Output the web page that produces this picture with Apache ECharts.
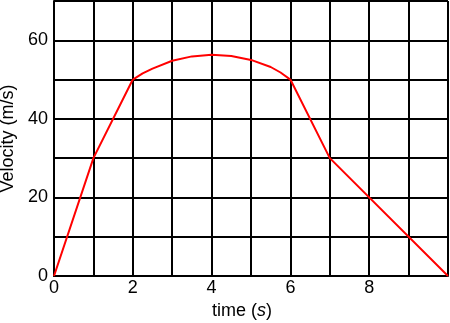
<!DOCTYPE html>
<html>
<head>
<meta charset="utf-8">
<script src="https://cdn.jsdelivr.net/npm/echarts@6/dist/echarts.min.js"></script>
<style>html,body{margin:0;padding:0;background:#fff}#c{width:450px;height:323px}</style>
</head>
<body>
<div id="c"></div>
<script>
// Straight segments (time, velocity)
var straightA = [[0, 0], [1, 30], [2, 50]];
var straightB = [[6, 50], [7, 30], [10, 0]];
// Curved segment
var arcPoints = [[2, 50], [2.25, 51.6], [2.5, 52.8], [3, 54.8], [3.5, 55.9], [4, 56.3], [4.5, 56.0], [5, 55.0], [5.5, 53.2], [5.75, 51.8], [6, 50]];
var xTickLabels = [0, 2, 4, 6, 8];
var yTickLabels = [0, 20, 40, 60];

var font = '"Liberation Sans", Arial, sans-serif';
var chart = echarts.init(document.getElementById('c'));
var lineStyle = {color: '#ff0000', width: 2};
chart.setOption({
  animation: false,
  grid: {left: 54, right: 2, top: 1, bottom: 47, containLabel: false, outerBoundsMode: 'none'},
  xAxis: {
    type: 'value', min: 0, max: 10, interval: 1,
    axisLine: {show: true, lineStyle: {color: '#000', width: 2}},
    axisTick: {show: false},
    splitLine: {show: true, lineStyle: {color: '#000', width: 2}},
    axisLabel: {
      color: '#000', fontSize: 18, fontFamily: font, margin: 3,
      formatter: function (v) { return xTickLabels.indexOf(v) >= 0 ? String(v) : ''; }
    },
    name: '{a|time (}{b|s}{a|)}',
    nameLocation: 'middle', nameGap: 19,
    nameTextStyle: {
      padding: [0, 18, 0, 0],
      rich: {
        a: {fontSize: 18, fontFamily: font, color: '#000'},
        b: {fontSize: 18, fontFamily: font, color: '#000', fontStyle: 'italic'}
      }
    }
  },
  yAxis: {
    type: 'value', min: 0, max: 70, interval: 10,
    axisLine: {show: true, lineStyle: {color: '#000', width: 2}},
    axisTick: {show: false},
    splitLine: {show: true, lineStyle: {color: '#000', width: 2}},
    axisLabel: {
      color: '#000', fontSize: 18, fontFamily: font, margin: 6,
      formatter: function (v) { return yTickLabels.indexOf(v) >= 0 ? String(v) : ''; }
    },
    name: 'Velocity (m/s)',
    nameLocation: 'middle', nameGap: 35,
    nameTextStyle: {fontSize: 18, fontFamily: font, color: '#000'}
  },
  series: [
    {type: 'line', data: straightA, symbol: 'none', lineStyle: lineStyle, z: 5},
    {type: 'line', data: arcPoints, symbol: 'none', lineStyle: lineStyle, z: 5},
    {type: 'line', data: straightB, symbol: 'none', lineStyle: lineStyle, z: 5}
  ]
});
</script>
</body>
</html>
